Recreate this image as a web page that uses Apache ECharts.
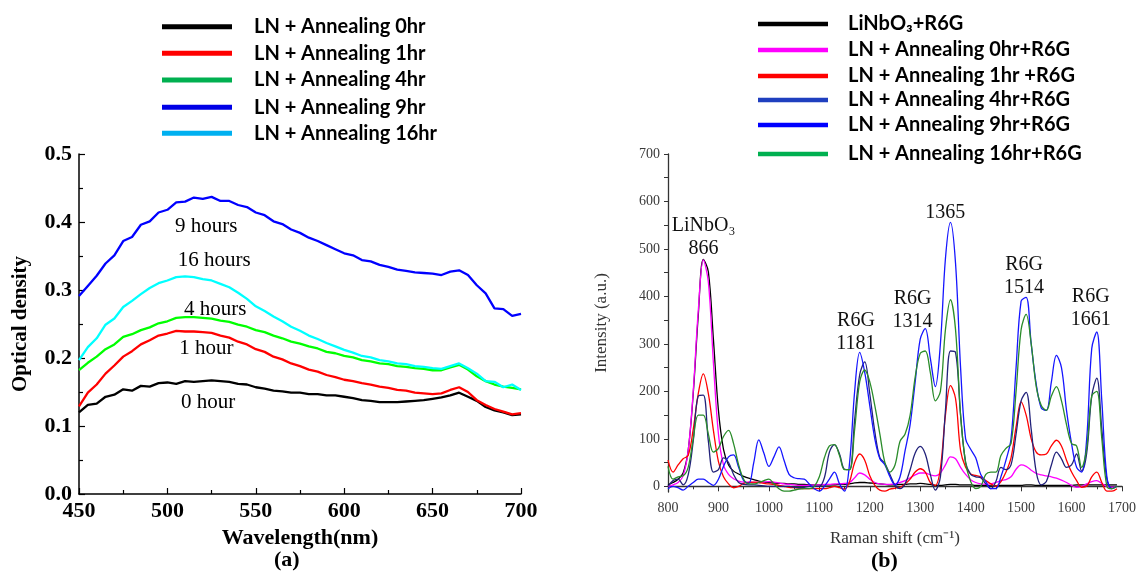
<!DOCTYPE html>
<html>
<head>
<meta charset="utf-8">
<script src="https://cdn.jsdelivr.net/npm/echarts@6/dist/echarts.min.js"></script>
<style>html,body{margin:0;padding:0;background:#fff}#c{width:1139px;height:573px}</style>
</head>
<body>
<div id="c"></div>
<script>
// ---------- Panel (a): optical density ----------
const wavelength = [
450,455,460,465,470,475,480,485,490,495,
500,505,510,515,520,525,530,535,540,545,
550,555,560,565,570,575,580,585,590,595,
600,605,610,615,620,625,630,635,640,645,
650,655,660,665,670,675,680,685,690,695,
700];
const od0hr = [
.120,.131,.133,.143,.146,.154,.152,.159,.158,.163,
.164,.162,.166,.165,.166,.167,.166,.165,.162,.161,
.157,.155,.152,.151,.149,.149,.147,.147,.145,.145,
.143,.141,.138,.137,.135,.135,.135,.136,.137,.138,
.140,.142,.145,.149,.143,.137,.128,.123,.120,.116,
.117];
const od1hr = [
.129,.149,.161,.177,.189,.202,.210,.220,.226,.233,
.236,.240,.239,.239,.238,.237,.233,.230,.224,.220,
.213,.209,.202,.198,.192,.188,.183,.180,.175,.172,
.168,.166,.163,.161,.158,.156,.153,.152,.149,.148,
.147,.148,.153,.157,.150,.138,.131,.125,.121,.117,
.119];
const od4hr = [
.182,.193,.202,.213,.220,.231,.235,.241,.245,.251,
.254,.259,.260,.260,.259,.258,.255,.253,.249,.246,
.241,.238,.233,.229,.224,.221,.217,.214,.209,.207,
.203,.201,.197,.195,.192,.191,.188,.187,.185,.184,
.182,.182,.186,.190,.183,.173,.166,.161,.158,.156,
.154];
const od9hr = [
.291,.306,.321,.339,.351,.372,.378,.396,.401,.414,
.418,.429,.430,.436,.434,.437,.431,.431,.425,.422,
.414,.410,.401,.397,.389,.384,.377,.372,.366,.360,
.354,.351,.344,.342,.337,.334,.330,.328,.326,.325,
.324,.322,.327,.329,.322,.307,.295,.273,.272,.262,
.265];
const od16hr = [
.197,.216,.229,.249,.258,.275,.284,.294,.303,.310,
.314,.319,.320,.319,.316,.314,.309,.304,.296,.287,
.276,.269,.261,.254,.246,.240,.233,.228,.222,.217,
.212,.208,.203,.201,.197,.195,.192,.191,.188,.187,
.185,.184,.188,.192,.185,.177,.166,.165,.157,.161,
.153];
const odNames = ['LN + Annealing 0hr','LN + Annealing 1hr','LN + Annealing 4hr','LN + Annealing 9hr','LN + Annealing 16hr'];
const odLabels = ['0 hour','1 hour','4 hours','9 hours','16 hours'];
const odLabelAt = [[523,0.134],[522,0.214],[527,0.272],[522,0.394],[526.5,0.344]];

// ---------- Panel (b): Raman ----------
const raman = [
800,810,820,830,840,850,860,870,880,890,
900,910,920,930,940,950,960,970,980,990,
1000,1010,1020,1030,1040,1050,1060,1070,1080,1090,
1100,1110,1120,1130,1140,1150,1160,1170,1180,1190,
1200,1210,1220,1230,1240,1250,1260,1270,1280,1290,
1300,1310,1320,1330,1340,1350,1360,1370,1380,1390,
1400,1410,1420,1430,1440,1450,1460,1470,1480,1490,
1500,1510,1520,1530,1540,1550,1560,1570,1580,1590,
1600,1610,1620,1630,1640,1650,1660,1670,1680,1690];
const rLiNbO3 = [
3,8,15,28,75,195,360,478,452,310,
160,78,45,32,26,21,17,14,11,9,
8,7,6,6,5,5,4,4,3,3,
3,3,3,3,4,4,5,7,8,8,
7,6,5,4,3,3,4,4,5,5,
6,5,4,2,2,3,4,4,3,3,
3,2,2,2,1,1,2,2,2,2,
2,3,3,2,2,2,2,2,2,2,
2,3,3,3,3,3,3,3,3,3];
const r0hr = [
0,3,8,22,75,200,370,477,430,260,
110,45,25,16,11,9,9,8,8,9,
10,9,7,5,4,3,2,2,2,3,
3,4,4,5,5,6,8,18,28,24,
15,8,5,4,4,5,8,12,18,24,
28,28,24,22,28,45,62,58,40,25,
14,8,5,4,5,8,12,14,20,36,
45,42,34,27,24,22,20,17,13,8,
2,-2,0,5,10,12,6,0,-2,0];
const r1hr = [
55,30,45,58,65,120,195,237,195,118,
52,20,5,-3,0,6,8,9,8,6,
5,4,2,0,-2,-3,-4,-5,-5,-5,
-5,-5,-3,0,-3,-6,10,50,68,55,
22,2,-8,-10,-6,-4,-2,5,15,30,
37,30,8,2,38,150,212,185,75,40,
26,23,20,12,5,0,10,30,60,125,
178,150,100,72,66,68,85,97,85,55,
30,12,-2,0,20,30,8,-10,-10,-5];
const r4hr = [
0,12,15,3,24,95,190,192,95,30,
35,60,50,25,8,4,3,3,2,1,
0,0,0,0,0,-2,-3,-2,0,0,
0,18,72,88,68,36,35,140,235,262,
195,115,60,48,25,2,-5,5,35,70,
84,68,25,-8,20,160,285,282,150,50,
25,20,18,5,-5,10,40,35,45,110,
180,198,120,30,3,10,45,72,58,40,
45,68,32,70,190,228,120,15,-5,0];
const r9hr = [
-5,0,-3,-8,0,8,15,15,8,2,
15,42,62,66,40,12,6,50,98,70,
42,62,83,55,25,18,16,15,5,-5,
-10,0,15,30,5,-10,50,200,282,240,
170,100,58,45,20,3,20,75,130,220,
310,332,270,210,300,480,556,470,250,100,
78,60,25,10,-5,-5,20,55,100,250,
390,398,300,215,165,160,220,276,250,160,
90,40,30,100,290,325,180,20,-5,0];
const r16hr = [
42,15,20,22,40,100,150,150,110,72,
80,105,118,90,45,15,5,5,8,12,
15,5,-5,-10,-10,-8,-6,-5,-5,0,
20,60,85,88,65,35,35,120,220,245,
220,170,110,50,30,45,95,110,150,230,
280,285,240,180,200,330,393,330,150,50,
10,-5,0,25,30,30,65,80,90,200,
330,362,300,210,170,160,190,210,180,130,
90,85,40,80,190,200,100,0,-5,0];
const ramanNames = ['LiNbO\u2083+R6G','LN + Annealing 0hr+R6G','LN + Annealing 1hr +R6G','LN + Annealing 4hr+R6G','LN + Annealing 9hr+R6G','LN + Annealing 16hr+R6G'];
const ramanPeakLabels = ['LiNbO\u2083\n866','R6G\n1181','R6G\n1314','1365','R6G\n1514','R6G\n1661'];
const ramanPeakAt = [[870.5,524],[1172.6,324],[1284.8,371],[1349.8,576],[1505.9,443],[1638,375]];
const intensityLabels = [0,100,200,300,400,500,600,700];
const intensityTicks = [0,50,100,150,200,250,300,350,400,450,500,550,600,650,700];

// ---------- styles ----------
const SERIF = 'Liberation Serif';
const LEG = 'Lato';
const odColors = ['#000000','#ff0000','#00ff00','#0000ff','#00ffff'];
const odLegendColors = ['#000000','#ff0000','#00b050','#0000e6','#00b0f0'];
const rColors = ['#000000','#ff00ff','#ff0000','#22227a','#1515ff','#2a8c2a'];
const rLegendColors = ['#000000','#ff00ff','#ff0000','#1f3fbf','#0000ff','#00b050'];
const odData = [od0hr, od1hr, od4hr, od9hr, od16hr];
const rData = [rLiNbO3, r0hr, r1hr, r4hr, r9hr, r16hr];
const pair = (xs, ys) => xs.map((x, i) => [x, ys[i]]);

const series = [];
odData.forEach((d, i) => {
  series.push({
    name: odNames[i], type: 'line', xAxisIndex: 0, yAxisIndex: 0,
    data: pair(wavelength, d), showSymbol: false, symbol: 'none',
    lineStyle: {color: odColors[i], width: 2.3}, itemStyle: {color: odColors[i]},
    z: 2 + i,
    markPoint: {
      symbol: 'rect', symbolSize: 1, itemStyle: {color: 'rgba(0,0,0,0)'},
      label: {show: true, position: 'inside', formatter: '{b}', color: '#000', fontFamily: SERIF, fontSize: 21},
      data: [{name: odLabels[i], coord: odLabelAt[i]}]
    }
  });
});
rData.forEach((d, i) => {
  series.push({
    name: ramanNames[i], type: 'line', xAxisIndex: 1, yAxisIndex: 1,
    data: pair(raman, d), showSymbol: false, symbol: 'none', smooth: 0.35,
    lineStyle: {color: rColors[i], width: 1.3}, itemStyle: {color: rColors[i]},
    z: 2 + i
  });
});
// peak annotations attached to the black Raman series
series[5].markPoint = {
  symbol: 'rect', symbolSize: 1, itemStyle: {color: 'rgba(0,0,0,0)'},
  label: {show: true, position: 'inside', formatter: '{b}', color: '#111', fontFamily: SERIF, fontSize: 20, lineHeight: 23},
  data: ramanPeakLabels.map((t, i) => ({name: t, coord: ramanPeakAt[i]}))
};

const legends = [];
const odRows = [26.7, 53.3, 80, 107.3, 133.3];
odNames.forEach((n, i) => legends.push({
  left: 162, top: odRows[i] - 12, padding: 0, selectedMode: false,
  icon: 'rect', itemWidth: 70, itemHeight: 5,
  data: [{name: n, itemStyle: {color: odLegendColors[i]}}],
  textStyle: {fontFamily: LEG, fontWeight: 'bold', fontSize: 20, color: '#000', lineHeight: 24, padding: [0,0,0,17]}
}));
const rRows = [24, 50, 76, 100, 125, 154];
ramanNames.forEach((n, i) => legends.push({
  left: 758, top: rRows[i] - 12, padding: 0, selectedMode: false,
  icon: 'rect', itemWidth: 70, itemHeight: 4.5,
  data: [{name: n, itemStyle: {color: rLegendColors[i]}}],
  textStyle: {fontFamily: LEG, fontWeight: 'bold', fontSize: 20, color: '#000', lineHeight: 24, padding: [0,0,0,15]}
}));

const chart = echarts.init(document.getElementById('c'), null, {renderer: 'canvas'});
chart.setOption({
  animation: false,
  backgroundColor: '#ffffff',
  legend: legends,
  grid: [
    {left: 79, right: 618, top: 154, bottom: 79},
    {left: 668, right: 14, top: 154, bottom: 81}
  ],
  xAxis: [
    {
      gridIndex: 0, type: 'value', min: 450, max: 700, interval: 50,
      axisLine: {lineStyle: {color: '#000', width: 1.5}},
      axisTick: {inside: true, length: 6, lineStyle: {color: '#000', width: 1.2}},
      minorTick: {show: true, splitNumber: 2, length: 4, lineStyle: {color: '#000', width: 1.2}},
      splitLine: {show: false}, minorSplitLine: {show: false},
      axisLabel: {fontFamily: SERIF, fontWeight: 'bold', fontSize: 22, color: '#000', margin: 6},
      name: 'Wavelength(nm)', nameLocation: 'middle', nameGap: 30,
      nameTextStyle: {fontFamily: SERIF, fontWeight: 'bold', fontSize: 22, color: '#000'}
    },
    {
      gridIndex: 1, type: 'value', min: 800, max: 1700, interval: 100,
      axisLine: {lineStyle: {color: '#333', width: 1.3}},
      axisTick: {inside: false, length: 5, lineStyle: {color: '#333'}},
      minorTick: {show: true, splitNumber: 2, length: 3, lineStyle: {color: '#333'}},
      splitLine: {show: false},
      axisLabel: {fontFamily: SERIF, fontSize: 14, color: '#3a3a3a', margin: 9, formatter: v => String(v)},
      name: 'Raman shift (cm\u207B\u00B9)', nameLocation: 'middle', nameGap: 38,
      nameTextStyle: {fontFamily: SERIF, fontSize: 17, color: '#333'}
    }
  ],
  yAxis: [
    {
      gridIndex: 0, type: 'value', min: 0, max: 0.5, interval: 0.1,
      axisLine: {show: true, lineStyle: {color: '#000', width: 1.5}},
      axisTick: {show: true, inside: true, length: 6, lineStyle: {color: '#000', width: 1.2}},
      minorTick: {show: true, splitNumber: 2, length: 4, lineStyle: {color: '#000', width: 1.2}},
      splitLine: {show: false},
      axisLabel: {fontFamily: SERIF, fontWeight: 'bold', fontSize: 22, color: '#000', margin: 7,
        formatter: v => v.toFixed(1)},
      name: 'Optical density', nameLocation: 'middle', nameGap: 48,
      nameTextStyle: {fontFamily: SERIF, fontWeight: 'bold', fontSize: 21, color: '#000'}
    },
    {
      gridIndex: 1, type: 'value', position: 'left', min: -12, max: 700,
      axisLine: {show: true, lineStyle: {color: '#333', width: 1.3}},
      axisTick: {show: true, inside: false, length: 4, customValues: intensityTicks, lineStyle: {color: '#333'}},
      splitLine: {show: false},
      axisLabel: {fontFamily: SERIF, fontSize: 14, color: '#3a3a3a', margin: 8, customValues: intensityLabels},
      name: 'Intensity (a.u.)', nameLocation: 'middle', nameGap: 58,
      nameTextStyle: {fontFamily: SERIF, fontSize: 17, color: '#333'}
    }
  ],
  graphic: [
    {type: 'text', left: 289 - 15, top: 549, style: {text: '(a)', fontFamily: SERIF, fontWeight: 'bold', fontSize: 22, fill: '#000'}},
    {type: 'text', left: 886 - 15, top: 550, style: {text: '(b)', fontFamily: SERIF, fontWeight: 'bold', fontSize: 22, fill: '#000'}}
  ],
  series: series
});
</script>
</body>
</html>
